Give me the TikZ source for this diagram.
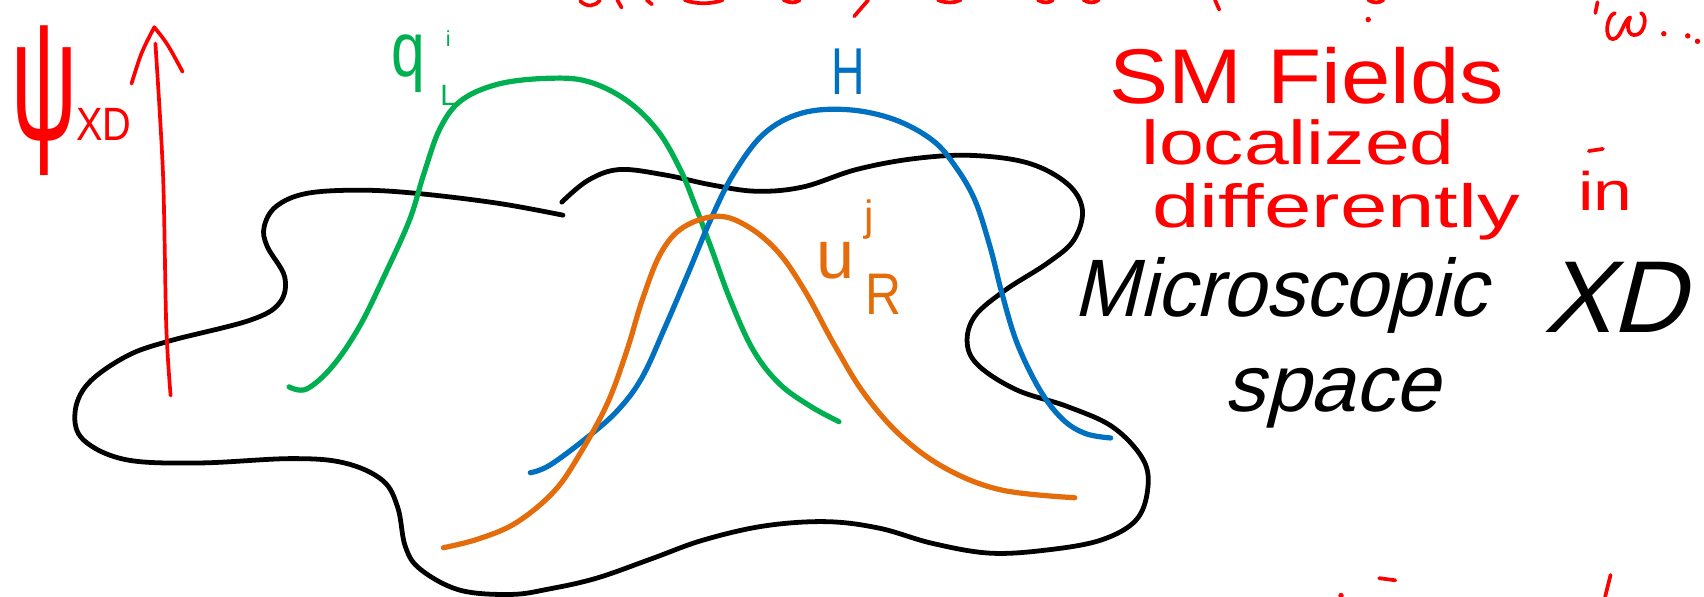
\documentclass[tikz,border=0pt]{standalone}
\usepackage{fontspec}
\usepackage{graphicx}
\setmainfont{Liberation Sans}
\newfontfamily\handfont[FakeSlant=0.25]{Liberation Sans}
\definecolor{myred}{RGB}{255,0,0}
\definecolor{mygreen}{RGB}{0,176,80}
\definecolor{myblue}{RGB}{0,112,192}
\definecolor{myorange}{RGB}{228,108,10}
\newcommand\fsz[1]{\fontsize{#1pt}{#1pt}\selectfont}
\begin{document}
\begin{tikzpicture}[x=1pt,y=-1pt,line cap=round,line join=round,
  blob/.style={draw=black,line width=4.4pt},
  field/.style={line width=4.8pt},
  redpen/.style={draw=myred,line width=3.4pt},
  lbl/.style={inner sep=0pt,anchor=base west},
  redtxt/.style={lbl,text=myred},
  blacktxt/.style={lbl,text=black,font=\handfont}]
\useasboundingbox (0,0) rectangle (1568,549);

% microscopic space (open closed-ish curve)
\draw[blob] plot[smooth,tension=0.6] coordinates {
 (517,186) (541,166) (570,156) (612,161) (654,170) (696,176) (739,172)
 (788,156) (841,146) (894,143) (946,150) (982,169) (996,193) (988,221)
 (964,242) (925,267) (897,291) (890,316) (901,337) (936,359) (982,374)
 (1024,393) (1052,423) (1056,451) (1045,479) (1013,497) (964,506)
 (911,509) (858,500) (809,486) (760,480) (703,484) (647,497) (600,514)
 (549,532) (505,542) (470,547) (423,543) (387,524) (373,503) (366,467)
 (352,442) (317,426) (268,422) (183,426) (116,423) (77,405) (69,380)
 (81,353) (116,328) (155,314) (229,295) (257,279) (262,255) (246,227)
 (243,209) (254,190) (282,178) (331,175) (384,178) (458,187) (518,198)};

% q_L field
\draw[field,draw=mygreen] plot[smooth,tension=0.6] coordinates {
 (266,356) (282,358) (306,337) (331,300) (355,251) (377,202) (390,160)
 (405,118) (425,92) (460,77) (506,72) (541,75) (576,92) (605,120)
 (626,156) (640,190) (654,227) (672,276) (693,322) (717,353) (746,374) (772,388)};

% H field
\draw[field,draw=myblue] plot[smooth,tension=0.6] coordinates {
 (488,435) (506,428) (541,402) (569,377) (591,347) (612,301) (633,252)
 (654,202) (675,160) (703,123) (738,104) (781,101) (823,110) (858,129)
 (879,153) (897,184) (911,227) (922,270) (936,316) (957,359) (978,386)
 (999,399) (1022,403)};

% u_R field
\draw[field,draw=myorange] plot[smooth,tension=0.6] coordinates {
 (408,504) (440,496) (475,481) (510,452) (534,417) (559,371) (577,322)
 (591,276) (608,233) (629,209) (661,199) (689,209) (717,233) (742,270)
 (767,316) (795,362) (830,402) (872,432) (922,451) (989,458)};

% red axis arrow
\draw[redpen] plot[smooth] coordinates {(157,364) (153,300) (150,160) (143,40)};
\draw[redpen] (121,77) .. controls (130,48) .. (142,25) .. controls (154,40) .. (168,66);

% axis label
\node[redtxt] (psi) at (10,128) {\fsz{100}\scalebox{0.85}[1.6]{ψ}};
\node[redtxt] (xd) at (70,129) {\fsz{43}\scalebox{0.85}[1]{XD}};

% field labels
\node[lbl,text=mygreen] (qq) at (360,70) {\fsz{62}\scalebox{0.9}[1.15]{q}};
\node[lbl,text=mygreen] (qi) at (410,43) {\fsz{20}i};
\node[lbl,text=mygreen] (ql) at (405,97) {\fsz{27}L};
\node[lbl,text=myblue] (hh) at (765,87) {\fsz{61}\scalebox{0.7}[1]{H}};
\node[lbl,text=myorange] (uu) at (751,256) {\fsz{63}u};
\node[lbl,text=myorange] (uj) at (795,212) {\fsz{39}j};
\node[lbl,text=myorange] (ur) at (796,289) {\fsz{54}\scalebox{0.85}[1]{R}};

% red text
\node[redtxt] (t1) at (1021,95) {\fsz{68}\scalebox{1.2}[1.05]{SM Fields}};
\node[redtxt] (t2) at (1050,151) {\fsz{57}\scalebox{1.3}[1]{localized}};
\node[redtxt] (t3) at (1060,209) {\fsz{56}\scalebox{1.4}[1]{differently}};
\node[redtxt] (t4) at (1452,194) {\fsz{50}\scalebox{1.28}[1]{in}};

% black text
\node[blacktxt] (m1) at (988,291) {\fsz{75}\scalebox{0.96}[1]{Microscopic}};
\node[blacktxt] (m2) at (1420,306) {\fsz{94}XD};
\node[blacktxt] (m3) at (1127,379) {\fsz{74}space};

% stray red pen fragments at the edges
\draw[redpen] (534,1) .. controls (540,7) and (548,6) .. (552,0);
\draw[redpen] (568,0) -- (572,7);
\draw[redpen] (595,0) -- (600,4);
\draw[redpen] (630,0) .. controls (640,4) and (655,4) .. (665,0);
\draw[redpen] (721,0) .. controls (727,3) and (732,3) .. (736,0);
\draw[redpen] (799,0) -- (786,15);
\draw[redpen] (863,0) .. controls (870,3) and (878,3) .. (884,0);
\draw[redpen] (955,0) .. controls (960,3) and (965,3) .. (969,0);
\draw[redpen] (997,0) .. controls (1002,3) and (1007,3) .. (1011,0);
\draw[redpen] (1118,0) -- (1122,9);
\draw[redpen] (1259,0) .. controls (1264,3) and (1269,3) .. (1273,0);
\fill[myred] (1259,18) circle (2.5);
\draw[redpen] (1470,2) -- (1468,12);
\draw[redpen] (1486,12) .. controls (1478,14) and (1476,36) .. (1484,36) .. controls (1492,36) and (1494,18) .. (1500,16);
\draw[redpen] (1500,16) .. controls (1496,24) and (1498,34) .. (1506,32) .. controls (1514,30) and (1516,14) .. (1510,12);
\fill[myred] (1531,31) circle (2.5);
\fill[myred] (1553,33) circle (2.5);
\fill[myred] (1562,38) circle (2.5);
\draw[redpen] (1462,139) -- (1475,137);
\fill[myred] (1234,548) circle (2.5);
\draw[redpen] (1269,532) -- (1284,534);
\draw[redpen] (1482,529) -- (1477,549);
\end{tikzpicture}
\end{document}
